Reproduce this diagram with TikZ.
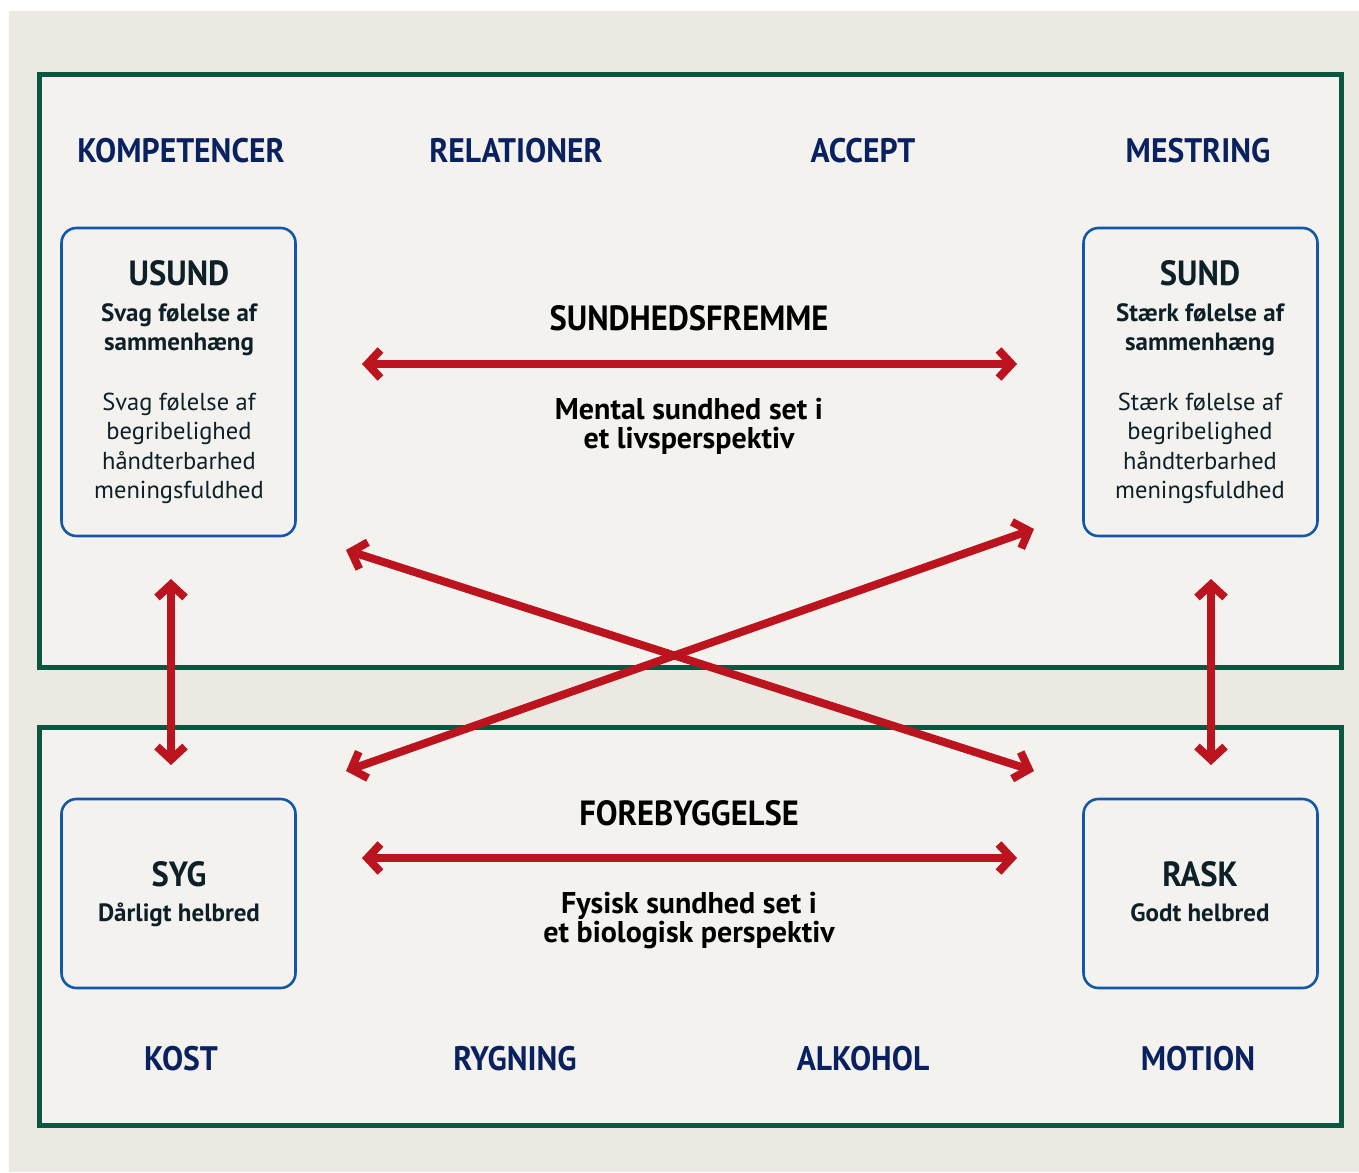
\documentclass[tikz,border=0pt]{standalone}
\usepackage{fontspec}
\setmainfont{PT Sans}
\newfontfamily\headf[FakeStretch=0.93]{PT Sans}
\newfontfamily\bodyf{PT Sans}
\usetikzlibrary{arrows.meta}
\definecolor{bgbeige}{HTML}{ECE9E2}
\definecolor{panel}{HTML}{F3F2EE}
\definecolor{frameg}{HTML}{0B5640}
\definecolor{boxblue}{HTML}{1358A8}
\definecolor{arrred}{HTML}{BB141E}
\definecolor{navy}{HTML}{0A2160}
\definecolor{darkt}{HTML}{0D1F27}
\tikzset{
  frame/.style={draw=frameg, line width=5pt, fill=panel},
  sbox/.style={draw=boxblue, line width=2.6pt, rounded corners=15pt, fill=panel},
  topic/.style={anchor=base, inner sep=0pt, text=navy, font=\headf\bfseries\fontsize{34}{34}\selectfont},
  boxtitle/.style={anchor=base, inner sep=0pt, text=darkt, font=\headf\bfseries\fontsize{35}{35}\selectfont},
  boxsub/.style={anchor=base, inner sep=0pt, text=darkt, font=\bodyf\bfseries\fontsize{25}{25}\selectfont},
  boxtxt/.style={anchor=base, inner sep=0pt, text=darkt, font=\bodyf\fontsize{24.5}{24.5}\selectfont},
  midtitle/.style={anchor=base, inner sep=0pt, text=black, font=\headf\bfseries\fontsize{35}{35}\selectfont},
  midtxt/.style={anchor=base, inner sep=0pt, text=black, font=\bodyf\bfseries\fontsize{30}{30}\selectfont},
  redarrow/.style={draw=arrred, line width=8pt, miter limit=10,
    arrows={Straight Barb[length=13pt,width=28pt,line join=miter]-Straight Barb[length=13pt,width=28pt,line join=miter]}},
}
\begin{document}
\begin{tikzpicture}[x=1pt,y=-1pt]
\useasboundingbox (0,0) rectangle (1359,1172);
\fill[white] (0,0) rectangle (1359,1172);
\fill[bgbeige] (9,11) rectangle (1359,1172);
% frames
\draw[frame] (39.5,74.5) rectangle (1341.5,667.5);
\draw[frame] (39.5,727.5) rectangle (1341.5,1125.5);
% boxes
\node[sbox, minimum width=234pt, minimum height=308pt, inner sep=0pt] (usund) at (178.5,382) {};
\node[sbox, minimum width=234pt, minimum height=308pt, inner sep=0pt] (sund) at (1200.5,382) {};
\node[sbox, minimum width=234pt, minimum height=189pt, inner sep=0pt] (syg) at (178.5,893.5) {};
\node[sbox, minimum width=234pt, minimum height=189pt, inner sep=0pt] (rask) at (1200.5,893.5) {};
% top topics
\node[topic] (komp) at (181,162) {KOMPETENCER};
\node[topic] (rel) at (516,162) {RELATIONER};
\node[topic] (acc) at (863,162) {ACCEPT};
\node[topic] (mes) at (1198,162) {MESTRING};
% bottom topics
\node[topic] (kost) at (181,1070) {KOST};
\node[topic] (ryg) at (515,1070) {RYGNING};
\node[topic] (alk) at (863,1070) {ALKOHOL};
\node[topic] (mot) at (1198,1070) {MOTION};
% usund text
\node[boxtitle] (usundt) at (179,285) {USUND};
\node[boxsub] (usunds1) at (179,321.5) {Svag følelse af};
\node[boxsub] (usunds2) at (179,350.5) {sammenhæng};
\node[boxtxt] (usundl1) at (179,410) {Svag følelse af};
\node[boxtxt] (usundl2) at (179,439.5) {begribelighed};
\node[boxtxt] (usundl3) at (179,469) {håndterbarhed};
\node[boxtxt] (usundl4) at (179,498.5) {meningsfuldhed};
% sund text
\node[boxtitle] (sundt) at (1200,285) {SUND};
\node[boxsub] (sunds1) at (1200,321.5) {Stærk følelse af};
\node[boxsub] (sunds2) at (1200,350.5) {sammenhæng};
\node[boxtxt] (sundl1) at (1200,410) {Stærk følelse af};
\node[boxtxt] (sundl2) at (1200,439.5) {begribelighed};
\node[boxtxt] (sundl3) at (1200,469) {håndterbarhed};
\node[boxtxt] (sundl4) at (1200,498.5) {meningsfuldhed};
% syg / rask
\node[boxtitle] (sygt) at (179,886.5) {SYG};
\node[boxsub] (sygs) at (179,921.5) {Dårligt helbred};
\node[boxtitle] (raskt) at (1200,886.5) {RASK};
\node[boxsub] (rasks) at (1200,921.5) {Godt helbred};
% middle texts
\node[midtitle] (sfrem) at (689,330) {SUNDHEDSFREMME};
\node[midtxt] (ment1) at (689,419) {Mental sundhed set i};
\node[midtxt] (ment2) at (689,448) {et livsperspektiv};
\node[midtitle] (foreb) at (689,825) {FOREBYGGELSE};
\node[midtxt] (fys1) at (689,913) {Fysisk sundhed set i};
\node[midtxt] (fys2) at (689,942.5) {et biologisk perspektiv};
% arrow end points
\coordinate (hA1) at (362,364);
\coordinate (hA2) at (1017,364);
\coordinate (hB1) at (362,858);
\coordinate (hB2) at (1017,858);
\coordinate (vL1) at (171,579);
\coordinate (vL2) at (171,765);
\coordinate (vR1) at (1211,579);
\coordinate (vR2) at (1211,765);
\coordinate (d1a) at (346,550);
\coordinate (d1b) at (1034,771);
\coordinate (d2a) at (346,771);
\coordinate (d2b) at (1034,529);
% arrows
\draw[redarrow] (hA1) -- (hA2);
\draw[redarrow] (hB1) -- (hB2);
\draw[redarrow] (vL1) -- (vL2);
\draw[redarrow] (vR1) -- (vR2);
\draw[redarrow] (d1a) -- (d1b);
\draw[redarrow] (d2a) -- (d2b);
\end{tikzpicture}
\end{document}
